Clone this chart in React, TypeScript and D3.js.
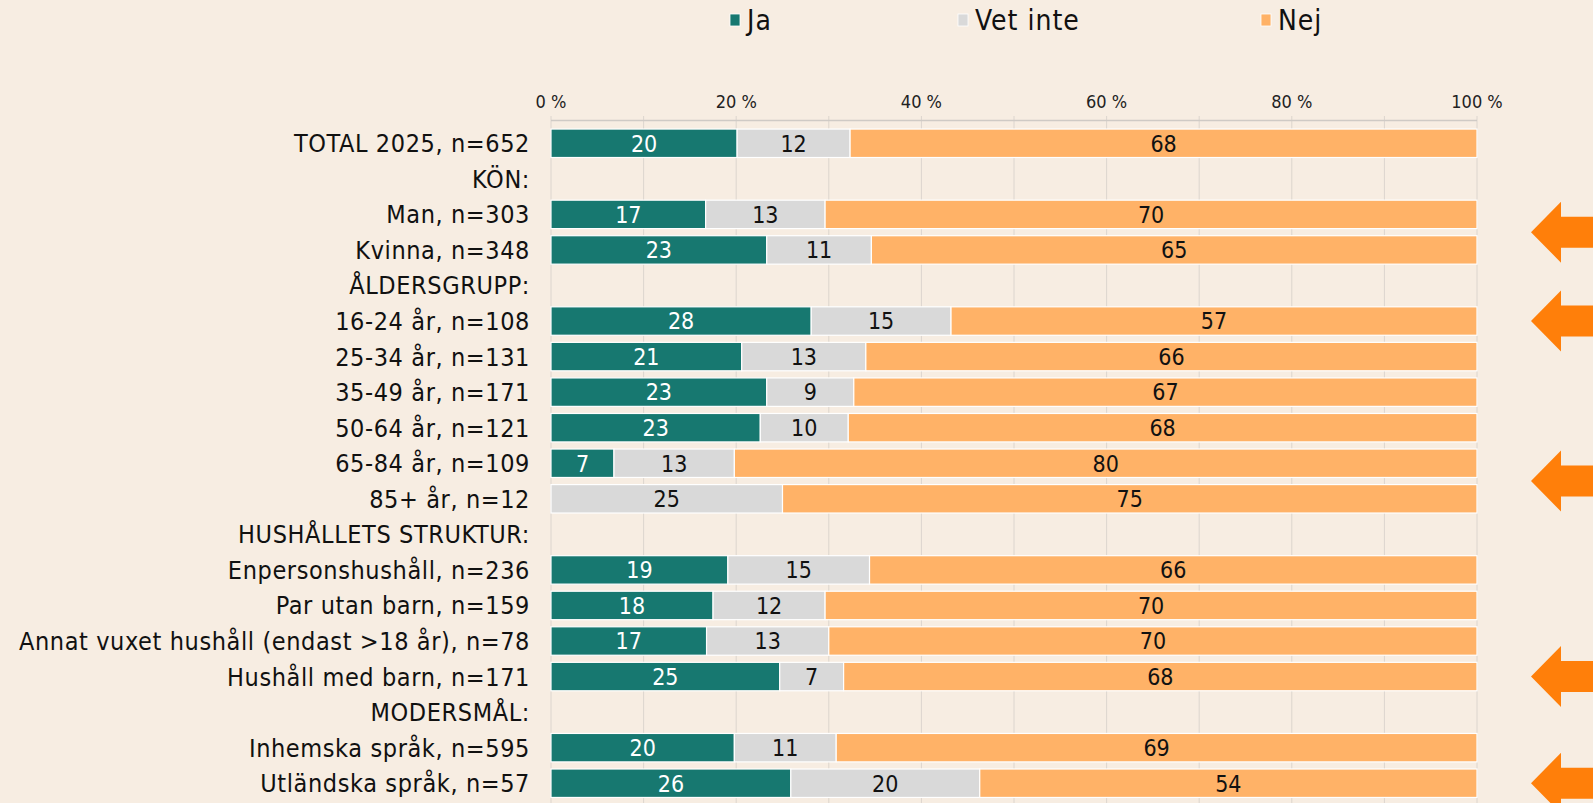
import React from "react";
import * as d3 from "d3";

const categories: string[] = [
  "TOTAL 2025, n=652",
  "KÖN:",
  "Man, n=303",
  "Kvinna, n=348",
  "ÅLDERSGRUPP:",
  "16-24 år, n=108",
  "25-34 år, n=131",
  "35-49 år, n=171",
  "50-64 år, n=121",
  "65-84 år, n=109",
  "85+ år, n=12",
  "HUSHÅLLETS STRUKTUR:",
  "Enpersonshushåll, n=236",
  "Par utan barn, n=159",
  "Annat vuxet hushåll (endast >18 år), n=78",
  "Hushåll med barn, n=171",
  "MODERSMÅL:",
  "Inhemska språk, n=595",
  "Utländska språk, n=57",
];

// null = header row without bar
const jaValues: (number | null)[] = [20.1, null, 16.7, 23.3, null, 28.1, 20.6, 23.3, 22.6, 6.8, 0, null, 19.1, 17.5, 16.8, 24.7, null, 19.8, 25.9];
const vetInteValues: (number | null)[] = [12.2, null, 12.9, 11.3, null, 15.1, 13.4, 9.4, 9.5, 13.0, 25.0, null, 15.3, 12.1, 13.2, 6.9, null, 11.0, 20.4];
const nejValues: (number | null)[] = [67.7, null, 70.4, 65.4, null, 56.8, 66.0, 67.3, 67.9, 80.2, 75.0, null, 65.6, 70.4, 70.0, 68.4, null, 69.2, 53.7];

const seriesNames: string[] = ["Ja", "Vet inte", "Nej"];
const seriesColors: string[] = ["#177870", "#D9D9D9", "#FFB267"];
const labelColors: string[] = ["#FFFFFF", "#111111", "#111111"];

const tickValues: number[] = [0, 20, 40, 60, 80, 100];
const gridValues: number[] = [0, 10, 20, 30, 40, 50, 60, 70, 80, 90, 100];

// annotation arrows: each points at the midpoint between listed rows
const arrowTargets: string[][] = [
  ["Man, n=303", "Kvinna, n=348"],
  ["16-24 år, n=108"],
  ["65-84 år, n=109", "85+ år, n=12"],
  ["Hushåll med barn, n=171"],
  ["Utländska språk, n=57"],
];

const W = 1593;
const H = 803;
const FONT = "'DejaVu Sans Condensed', 'Noto Sans', sans-serif";

export default function App() {
  const x = d3.scaleLinear().domain([0, 100]).range([551, 1477]);
  const y = d3.scaleBand<string>().domain(categories).range([125.5, 801]).paddingInner(0.2).paddingOuter(0.1);
  const bw = y.bandwidth();
  const cy = (c: string) => (y(c) as number) + bw / 2;

  const rows = categories.map((c, i) => {
    const vals = [jaValues[i], vetInteValues[i], nejValues[i]];
    if (vals[0] === null) return null;
    const total = (vals as number[]).reduce((a, b) => a + b, 0);
    let acc = 0;
    const segs = (vals as number[]).map((v, k) => {
      const x0 = (acc / total) * 100;
      acc += v;
      const x1 = (acc / total) * 100;
      return { k, v, x0, x1 };
    });
    return { c, segs };
  });

  const legendX = [730, 958, 1261];

  return (
    <div style={{ position: "fixed", left: 0, top: 0, width: W, height: H, background: "#F7EDE2" }}>
      <svg width={W} height={H} style={{ display: "block" }} fontFamily={FONT}>
        <rect x={0} y={0} width={W} height={H} fill="#F7EDE2" />
        {/* legend */}
        {seriesNames.map((n, i) => (
          <g key={n}>
            <rect x={legendX[i]} y={14} width={10} height={12} fill={seriesColors[i]} stroke="#fff" strokeWidth={0.8} />
            <text x={legendX[i] + 17} y={30} fontSize={28} letterSpacing={1} fill="#111">{n}</text>
          </g>
        ))}
        {/* gridlines */}
        {gridValues.map((g) => (
          <line key={g} x1={x(g)} x2={x(g)} y1={116} y2={H} stroke="#DCD5CE" strokeWidth={1} />
        ))}
        <line x1={x(0)} x2={x(100)} y1={120.5} y2={120.5} stroke="#CFCAC5" strokeWidth={1.3} />
        {tickValues.map((t) => (
          <text key={t} x={x(t)} y={108} fontSize={18} textAnchor="middle" fill="#222">
            {t} %
          </text>
        ))}
        {/* category labels */}
        {categories.map((c) => (
          <text key={c} x={530} y={cy(c)} dy="0.36em" fontSize={25} letterSpacing={0.6} textAnchor="end" fill="#111">
            {c}
          </text>
        ))}
        {/* bars */}
        {rows.map((r) =>
          r === null ? null : (
            <g key={r.c}>
              {r.segs.map((s) =>
                s.v <= 0 ? null : (
                  <g key={s.k}>
                    <rect
                      x={x(s.x0)}
                      y={y(r.c)}
                      width={x(s.x1) - x(s.x0)}
                      height={bw}
                      fill={seriesColors[s.k]}
                      stroke="#FFFFFF"
                      strokeWidth={1.2}
                    />
                    <text
                      x={(x(s.x0) + x(s.x1)) / 2}
                      y={cy(r.c)}
                      dy="0.36em"
                      fontSize={23}
                      textAnchor="middle"
                      fill={labelColors[s.k]}
                    >
                      {Math.round(s.v)}
                    </text>
                  </g>
                )
              )}
            </g>
          )
        )}
        {/* arrows */}
        {arrowTargets.map((t, i) => {
          const c = d3.mean(t.map(cy)) as number;
          const tip = 1531;
          const base = 1561;
          const hh = 30.5;
          const sh = 15.5;
          const p = d3.path();
          p.moveTo(tip, c);
          p.lineTo(base, c - hh);
          p.lineTo(base, c - sh);
          p.lineTo(W + 5, c - sh);
          p.lineTo(W + 5, c + sh);
          p.lineTo(base, c + sh);
          p.lineTo(base, c + hh);
          p.closePath();
          return <path key={i} d={p.toString()} fill="#FF7F0A" />;
        })}
      </svg>
    </div>
  );
}
